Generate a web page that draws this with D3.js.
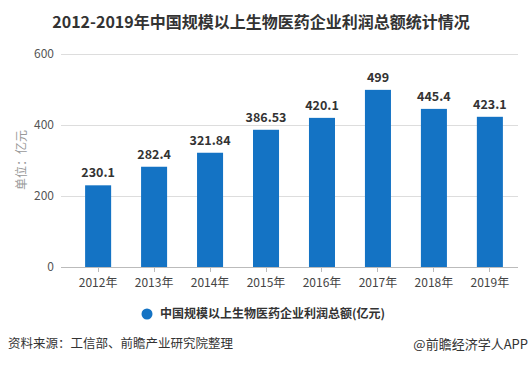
<!DOCTYPE html>
<html><head><meta charset="utf-8">
<script src="https://cdn.jsdelivr.net/npm/d3@7"></script>
<style>body{margin:0;background:#fff}svg{display:block}</style>
</head><body>
<script>
const categories = ["2012年","2013年","2014年","2015年","2016年","2017年","2018年","2019年"];
const values = [230.1, 282.4, 321.84, 386.53, 420.1, 499, 445.4, 423.1];
const valueLabels = ["230.1","282.4","321.84","386.53","420.1","499","445.4","423.1"];
const yTicks = [0, 200, 400, 600];
const title = "2012-2019年中国规模以上生物医药企业利润总额统计情况";
const seriesName = "中国规模以上生物医药企业利润总额(亿元)";

const W = 532, H = 368;
const svg = d3.select("body").append("svg").attr("width", W).attr("height", H);
const font = "'Microsoft YaHei','Noto Sans CJK SC',sans-serif";

const x = d3.scaleBand().domain(categories).range([70, 518]).paddingInner(0.535).paddingOuter(0.27);
const y = d3.scaleLinear().domain([0, 600]).range([267, 54]);

// gridlines
svg.append("g").selectAll("line").data(yTicks).join("line")
  .attr("x1", 61).attr("x2", 518)
  .attr("y1", d => y(d)).attr("y2", d => y(d))
  .attr("stroke", d => d === 0 ? "#bbb" : "#ddd").attr("stroke-width", 1)
  .attr("shape-rendering", "crispEdges");

// y tick labels
svg.append("g").selectAll("text").data(yTicks).join("text")
  .attr("x", 54).attr("y", d => y(d)).attr("dy", "0.35em")
  .attr("text-anchor", "end").attr("font-family", font).attr("font-size", 12)
  .attr("fill", "#555").text(d => d);

// y unit
svg.append("text").attr("transform", "translate(22,160) rotate(-90)")
  .attr("text-anchor", "middle").attr("dy", "0.35em")
  .attr("font-family", font).attr("font-size", 12).attr("fill", "#999")
  .text("单位：亿元");

// bars
svg.append("g").selectAll("rect").data(values).join("rect")
  .attr("x", (d, i) => x(categories[i])).attr("width", x.bandwidth())
  .attr("y", d => y(d)).attr("height", d => y(0) - y(d))
  .attr("fill", "#1473c4");

// value labels
svg.append("g").selectAll("text").data(values).join("text")
  .attr("x", (d, i) => x(categories[i]) + x.bandwidth() / 2)
  .attr("y", d => y(d) - 8)
  .attr("text-anchor", "middle").attr("font-family", font).attr("font-size", 12.5)
  .attr("font-weight", "bold").attr("fill", "#333")
  .text((d, i) => valueLabels[i]);

// x tick marks and labels
const xg = svg.append("g");
categories.forEach(c => {
  const cx = x(c) + x.bandwidth() / 2;
  xg.append("line").attr("x1", cx).attr("x2", cx).attr("y1", 267).attr("y2", 272)
    .attr("stroke", "#bbb").attr("shape-rendering", "crispEdges");
  xg.append("text").attr("x", cx).attr("y", 283).attr("dy", "0.35em")
    .attr("text-anchor", "middle").attr("font-family", font).attr("font-size", 12)
    .attr("fill", "#444").text(c);
});

// title
svg.append("text").attr("x", 261).attr("y", 22).attr("dy", "0.35em")
  .attr("text-anchor", "middle").attr("font-family", font).attr("font-size", 16)
  .attr("font-weight", "bold").attr("fill", "#333").text(title);

// legend
svg.append("circle").attr("cx", 147).attr("cy", 314).attr("r", 5.5).attr("fill", "#1473c4");
svg.append("text").attr("x", 160).attr("y", 314).attr("dy", "0.35em")
  .attr("font-family", font).attr("font-size", 12).attr("font-weight", "bold")
  .attr("fill", "#333").text(seriesName);

// footer
svg.append("text").attr("x", 8).attr("y", 344).attr("dy", "0.35em")
  .attr("font-family", font).attr("font-size", 12.5).attr("fill", "#333")
  .text("资料来源：工信部、前瞻产业研究院整理");
svg.append("text").attr("x", 528).attr("y", 344).attr("dy", "0.35em")
  .attr("text-anchor", "end").attr("font-family", font).attr("font-size", 13)
  .attr("fill", "#333").text("@前瞻经济学人APP");
</script>
</body></html>
